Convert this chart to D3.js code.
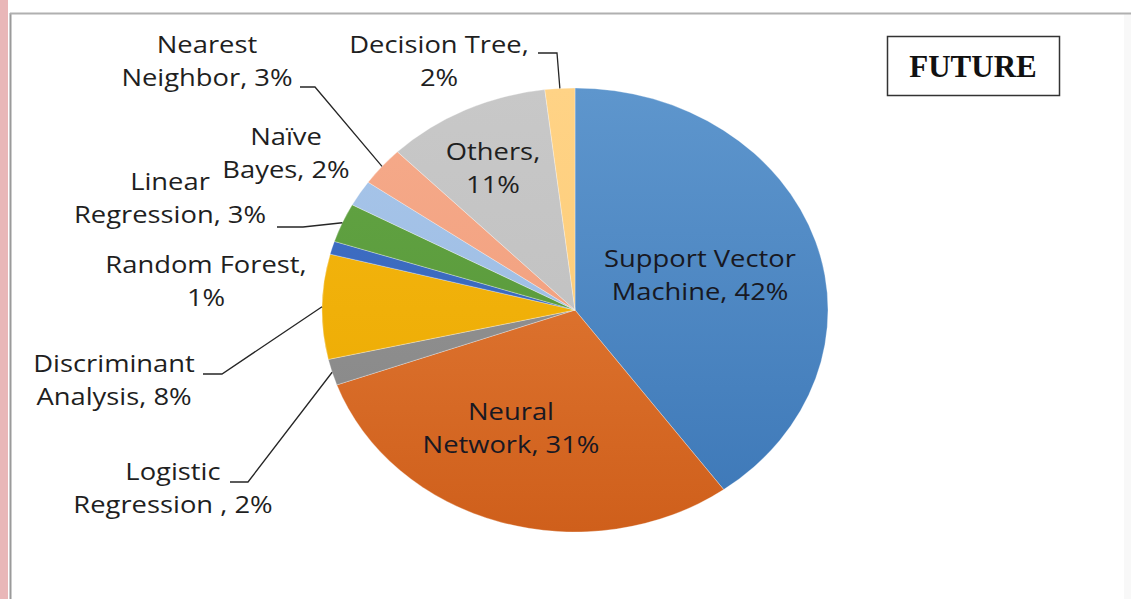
<!DOCTYPE html>
<html>
<head>
<meta charset="utf-8">
<script src="https://cdn.jsdelivr.net/npm/d3@7/dist/d3.min.js"></script>
<style>
  html, body { margin: 0; padding: 0; background: #ffffff; }
  svg { display: block; }
</style>
</head>
<body>
<svg id="chart" width="1131" height="599"></svg>
<script>
// ---- data ----
const categories = ["Support Vector Machine", "Neural Network", "Logistic Regression", "Discriminant Analysis",
  "Random Forest", "Linear Regression", "Naïve Bayes", "Nearest Neighbor", "Others", "Decision Tree"];
const values = [42, 31, 2, 8, 1, 3, 2, 3, 11, 2];
const labelLines = [
  ["Support Vector", "Machine, 42%"],
  ["Neural", "Network, 31%"],
  ["Logistic", "Regression , 2%"],
  ["Discriminant", "Analysis, 8%"],
  ["Random Forest,", "1%"],
  ["Linear", "Regression, 3%"],
  ["Naïve", "Bayes, 2%"],
  ["Nearest", "Neighbor, 3%"],
  ["Others,", "11%"],
  ["Decision Tree,", "2%"]
];
const title = "FUTURE";

// ---- styles / layout (not data) ----
const topColors = ["#5e96cd", "#e8833f", "#979797", "#f6b812", "#4070c6", "#63a544", "#a8c6ea", "#f6ab8b", "#c8c8c8", "#ffd386"];
const botColors = ["#3c77b7", "#cf5f1b", "#858585", "#eaa800", "#3564b8", "#559437", "#98b8e0", "#ef9a78", "#bdbdbd", "#fbc870"];
// label anchor (centre x, first baseline) per slice
const labelPos = [
  [700, 267], [511, 420], [173, 480], [114, 372], [206, 273],
  [170, 190], [286, 145], [207, 53], [493, 160], [439, 53]
];
// leader line: [startX, startY, elbowX, elbowY] or null
const leaders = [
  null, null, [230, 482, 248, 482], [203, 374, 222, 374], null,
  [277, 227, 303, 227], null, [300, 87, 315, 87], null, [538, 53, 557, 53]
];
const stretch = 1.14;

const svg = d3.select("#chart");
const W = 1131, H = 599;

// frame
svg.append("rect").attr("x", 0).attr("y", 0).attr("width", 8).attr("height", H).attr("fill", "#e9b7b8");
svg.append("rect").attr("x", 1124).attr("y", 14).attr("width", 7).attr("height", H).attr("fill", "#f8f8f8");
svg.append("line").attr("x1", 10.5).attr("x2", 10.5).attr("y1", 13).attr("y2", H).attr("stroke", "#9a9a9a").attr("stroke-width", 2);
svg.append("line").attr("x1", 10).attr("x2", W).attr("y1", 13.5).attr("y2", 13.5).attr("stroke", "#b0b0b0").attr("stroke-width", 2);

// pie geometry
const cx = 575, cy = 310, rx = 253, ry = 222;
const pie = d3.pie().sort(null).value(d => d)(values);
const arc = d3.arc().innerRadius(0).outerRadius(ry);

const defs = svg.append("defs");
categories.forEach((c, i) => {
  const g = defs.append("linearGradient").attr("id", "g" + i)
    .attr("gradientUnits", "userSpaceOnUse")
    .attr("x1", 0).attr("y1", -ry).attr("x2", 0).attr("y2", ry);
  g.append("stop").attr("offset", "0%").attr("stop-color", topColors[i]);
  g.append("stop").attr("offset", "100%").attr("stop-color", botColors[i]);
});

const pg = svg.append("g").attr("transform", `translate(${cx},${cy}) scale(${rx / ry},1)`);
pg.selectAll("path").data(pie).enter().append("path")
  .attr("d", arc)
  .attr("fill", (d, i) => `url(#g${i})`)
  .attr("stroke", "#ffffff")
  .attr("stroke-opacity", 0.5)
  .attr("stroke-width", 0.6)
  .attr("vector-effect", "non-scaling-stroke");

// leader lines from slice midangle on the ellipse edge
function edgePoint(d) {
  const a = (d.startAngle + d.endAngle) / 2;
  return [cx + rx * Math.sin(a), cy - ry * Math.cos(a)];
}
pie.forEach((d, i) => {
  const L = leaders[i];
  if (!L) return;
  const e = edgePoint(d);
  svg.append("path")
    .attr("d", d3.line()([[L[0], L[1]], [L[2], L[3]], e]))
    .attr("fill", "none").attr("stroke", "#262626").attr("stroke-width", 1.3);
});

// labels (horizontally stretched like the source image)
const lab = svg.append("g").attr("font-family", "'Open Sans', 'DejaVu Sans', sans-serif")
  .attr("font-size", 24).attr("fill", "#1f1f1f").attr("text-anchor", "middle");
labelLines.forEach((lines, i) => {
  const t = lab.append("text")
    .attr("transform", `translate(${labelPos[i][0]},${labelPos[i][1]}) scale(${stretch},1)`);
  if (i <= 1) t.attr("fill", "#181822");
  lines.forEach((s, k) => {
    t.append("tspan").attr("x", 0).attr("dy", k === 0 ? 0 : 33.5).text(s);
  });
});

// FUTURE box
svg.append("rect").attr("x", 887.5).attr("y", 36.5).attr("width", 172).attr("height", 59)
  .attr("fill", "#ffffff").attr("stroke", "#333333").attr("stroke-width", 1.5);
svg.append("text").attr("x", 973).attr("y", 77).attr("text-anchor", "middle")
  .attr("font-family", "'Liberation Serif', 'Times New Roman', serif").attr("font-weight", "bold")
  .attr("font-size", 31).attr("fill", "#111111").text(title);
</script>
</body>
</html>
